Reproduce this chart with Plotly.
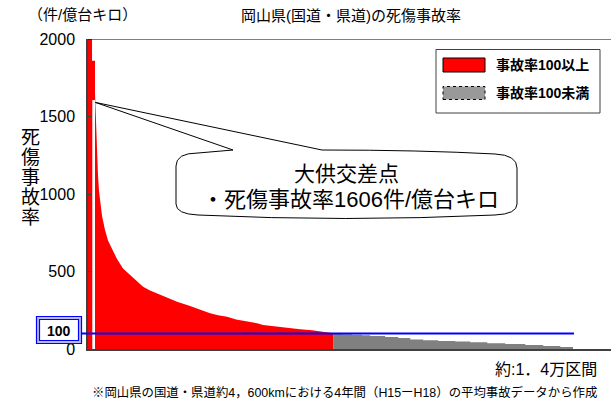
import plotly.graph_objects as go

# ---- data: road sections sorted by casualty-accident rate (件/億台キロ) ----
TOTAL_SECTIONS = 14000

# highest-rate sections drawn as flat bars (start position, rate)
top_start = [0, 116]
top_rate = [2000, 1860]
top_end = 202

# sections with rate >= 100 (cumulative section position, rate)
red_pos = [202, 231, 260, 289, 318, 347, 404, 491, 578, 685, 838, 1011,
           1213, 1415, 1589, 1791, 1993, 2224, 2571, 2946, 3235, 3524, 3755,
           4015, 4275, 4477, 4737, 4881, 5055, 5315, 5632, 5835, 6124, 6470,
           6701, 6874, 7077]
red_rate = [1650, 1450, 1250, 1120, 1020, 950, 860, 768, 700, 650, 580,
            520, 477, 435, 402, 378, 359, 335, 305, 277, 252, 230, 218, 208, 191,
            183, 176, 166, 155, 148, 140, 133, 127, 121, 114, 108, 101]

# sections with rate < 100 (step start position, rate)
gray_start = [7077, 7337, 7625, 7914, 8145, 8578, 8954, 9301, 9676, 10109, 10600,
              11034, 11525, 12044, 12622, 13142, 13633]
gray_rate = [99, 95, 92, 88, 84, 77, 71, 62, 56, 52, 49, 43, 37, 32, 26, 19, 13]

# 大供交差点 (highlighted section)
spot_start, spot_end = 124, 202
spot_rate = 1606

threshold = 100
y_ticks = [0, 500, 1000, 1500, 2000]

# ---- layout geometry ----
W, H = 611, 401
ML, MR, MT, MB = 88, 0, 39, 52
PW, PH = W - ML - MR, H - MT - MB
X_MAX = TOTAL_SECTIONS * PW / 485.0
Y_MAX = 2000

FONT = "Liberation Sans, Arial, Noto Sans CJK JP"


def xp(px):
    return (px - ML) / PW


def yp(py):
    return (H - MB - py) / PH


def sx(px):
    return (px - ML) / PW * X_MAX


def vy(py):
    return (H - MB - py) / PH * Y_MAX


def label(text, x, y, size, xanchor="center", bold=False):
    return dict(text=f"<b>{text}</b>" if bold else text, xref="paper", yref="paper",
                x=xp(x), y=yp(y), xanchor=xanchor, yanchor="middle", showarrow=False,
                font=dict(family=FONT, size=size, color="black"))


fig = go.Figure()

# tallest sections: flat red bars
fig.add_trace(go.Scatter(
    x=top_start + [top_end], y=top_rate + [top_rate[-1]],
    mode="lines", line=dict(shape="hv", width=0, color="#FF0000"),
    fill="tozeroy", fillcolor="#FF0000", hoverinfo="skip", showlegend=False))

# rate >= 100 : red area
fig.add_trace(go.Scatter(
    x=red_pos, y=red_rate,
    mode="lines", line=dict(shape="linear", width=0, color="#FF0000"),
    fill="tozeroy", fillcolor="#FF0000", hoverinfo="skip", showlegend=False))

# rate < 100 : gray stepped area
fig.add_trace(go.Scatter(
    x=gray_start + [TOTAL_SECTIONS], y=gray_rate + [gray_rate[-1]],
    mode="lines", line=dict(shape="hv", width=0, color="#808080"),
    fill="tozeroy", fillcolor="#808080", hoverinfo="skip", showlegend=False))

# highlighted intersection bar
fig.add_trace(go.Scatter(
    x=[spot_start, spot_start, spot_end, spot_end],
    y=[0, spot_rate, spot_rate, 0],
    mode="lines", line=dict(width=0, color="white"),
    fill="toself", fillcolor="white", hoverinfo="skip", showlegend=False))

shapes = []
annotations = []

# top frame line
shapes.append(dict(type="line", xref="paper", yref="y", x0=0, x1=1, y0=Y_MAX, y1=Y_MAX,
                   line=dict(color="#000000", width=1)))

# threshold line at 100
shapes.append(dict(type="line", xref="paper", yref="y", x0=xp(81.5), x1=xp(574),
                   y0=threshold, y1=threshold, line=dict(color="#0000FF", width=2.2)))

# boxed "100" label
shapes.append(dict(type="rect", xref="paper", yref="paper",
                   x0=xp(36.5), x1=xp(81.5), y0=yp(343.5), y1=yp(316.5),
                   line=dict(color="#0000FF", width=1.2), fillcolor="#b8b8ff"))
shapes.append(dict(type="rect", xref="paper", yref="paper",
                   x0=xp(39.5), x1=xp(78.5), y0=yp(340.5), y1=yp(319.5),
                   line=dict(color="#0000FF", width=1.2), fillcolor="white"))
annotations.append(label(str(threshold), 59, 330.5, 14, bold=True))

# legend box
shapes.append(dict(type="rect", xref="paper", yref="paper",
                   x0=xp(436), x1=xp(600), y0=yp(113), y1=yp(49.5),
                   line=dict(color="#404040", width=1), fillcolor="white"))
shapes.append(dict(type="rect", xref="paper", yref="paper",
                   x0=xp(443), x1=xp(485), y0=yp(72), y1=yp(58),
                   line=dict(color="#000000", width=1), fillcolor="#FF0000"))
shapes.append(dict(type="rect", xref="paper", yref="paper",
                   x0=xp(443), x1=xp(485), y0=yp(99.5), y1=yp(86.5),
                   line=dict(color="#000000", width=1, dash="dot"), fillcolor="#999999"))
annotations.append(label("事故率100以上", 494, 65, 14, xanchor="left", bold=True))
annotations.append(label("事故率100未満", 494, 93, 14, xanchor="left", bold=True))

# callout bubble pointing at the intersection
tip_x, tip_y = spot_end + 10, spot_rate - 15


def P(px, py):
    return f"{sx(px):.1f},{vy(py):.1f}"


path = (f"M{P(176,166)} Q{P(176,153)} {P(198,153)} L{P(233,150)} "
        f"L{tip_x:.1f},{tip_y:.1f} L{P(322,150)} Q{P(420,150)} {P(495,154)} "
        f"Q{P(517,155)} {P(517,168)} L{P(517,204)} Q{P(517,214)} {P(495,215)} "
        f"Q{P(345,222)} {P(198,215)} Q{P(176,214)} {P(176,204)} Z")
shapes.append(dict(type="path", xref="x", yref="y", path=path,
                   line=dict(color="#000000", width=1), fillcolor="white"))
annotations.append(label("大供交差点", 346, 173, 21))
annotations.append(label("・死傷事故率" + str(spot_rate) + "件/億台キロ", 350, 200, 22))

# titles and notes
annotations.append(label("岡山県(国道・県道)の死傷事故率", 351, 16, 15))
annotations.append(label("（件/億台キロ）", 82, 14, 15))
for i, ch in enumerate("死傷事故率"):
    annotations.append(label(ch, 30, 137.5 + 20 * i, 19))
annotations.append(label("約:1．4万区間", 599, 369, 16, xanchor="right"))
annotations.append(label(
    "※岡山県の国道・県道約4，600kmにおける4年間（H15ーH18）の平均事故データから作成",
    599, 392, 12.4, xanchor="right"))

fig.update_layout(
    width=W, height=H,
    margin=dict(l=ML, r=MR, t=MT, b=MB, pad=0),
    paper_bgcolor="white", plot_bgcolor="white",
    showlegend=False,
    xaxis=dict(range=[0, X_MAX], showgrid=False, zeroline=False, showticklabels=False,
               ticks="", showline=True, linecolor="#404040", linewidth=2, fixedrange=True),
    yaxis=dict(range=[0, Y_MAX], tickvals=y_ticks, showgrid=False, zeroline=False,
               showline=True, linecolor="#404040", linewidth=1.5,
               ticks="inside", ticklen=4, tickcolor="#404040",
               ticklabelstandoff=8,
               tickfont=dict(family=FONT, size=16, color="black"), fixedrange=True),
    shapes=shapes, annotations=annotations,
)

fig.write_html("out.html")
